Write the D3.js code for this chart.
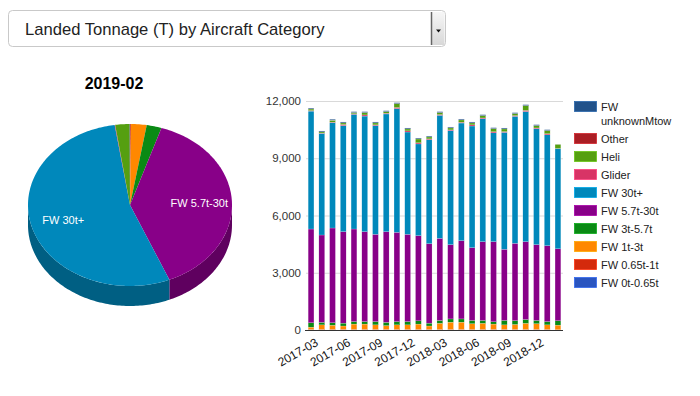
<!DOCTYPE html>
<html>
<head>
<meta charset="utf-8">
<script src="https://cdn.jsdelivr.net/npm/d3@7"></script>
<style>
  body { margin: 0; background: #fff; }
  svg { display: block; font-family: "Liberation Sans", Arial, Helvetica, sans-serif; }
</style>
</head>
<body>
<svg id="chart" width="700" height="396"></svg>
<script>
// monthly landed tonnage per aircraft category
const months = ["2017-03","2017-04","2017-05","2017-06","2017-07","2017-08","2017-09","2017-10","2017-11","2017-12","2018-01","2018-02",
                "2018-03","2018-04","2018-05","2018-06","2018-07","2018-08","2018-09","2018-10","2018-11","2018-12","2019-01","2019-02"];
const tickMonths = ["2017-03","2017-06","2017-09","2017-12","2018-03","2018-06","2018-09","2018-12"];
const yTicks = [0, 3000, 6000, 9000, 12000];

const fw0_065  = [15,15,15,15,15,15,15,15,15,15,15,15,15,15,15,15,15,15,15,15,15,15,15,4];
const fw065_1  = [15,15,15,15,15,15,15,15,15,15,15,15,15,15,15,15,15,15,15,15,15,15,15,12];
const fw1_3    = [120,240,220,180,280,280,240,200,240,240,280,180,320,380,380,300,320,280,240,260,320,300,240,240];
const fw3_57   = [230,130,130,150,130,130,170,170,170,170,170,150,150,170,170,170,150,120,230,200,200,170,170,230];
const fw57_30  = [4912,4578,4965,4792,4852,4712,4573,4752,4677,4573,4463,4164,4303,3892,4101,3814,4129,4199,3727,4051,4079,3972,3979,3770];
const fw30     = [6178,5320,5515,5558,6008,6058,5697,6168,6483,5362,4807,5451,6447,5975,6165,6376,6443,5701,6128,6656,6817,6076,5807,5250];
const glider   = [30,20,30,60,30,60,40,40,60,60,60,40,40,40,40,60,40,60,40,40,60,40,60,8];
const heli     = [80,60,100,80,60,120,100,80,200,100,200,100,100,100,120,100,120,160,140,100,250,120,160,220];
const other    = [6,6,6,6,6,6,6,6,6,6,6,6,6,6,6,6,6,6,6,6,6,6,6,2];
const unknown  = [45,45,45,45,45,45,45,45,45,45,45,45,45,45,45,45,45,45,45,45,45,45,45,4];

const keys   = ["FW 0t-0.65t","FW 0.65t-1t","FW 1t-3t","FW 3t-5.7t","FW 5.7t-30t","FW 30t+","Glider","Heli","Other","FW unknownMtow"];
const series = [fw0_065, fw065_1, fw1_3, fw3_57, fw57_30, fw30, glider, heli, other, unknown];
const colors = ["#2a55c0","#d42a0c","#ff8800","#0a8a14","#880088","#0088bb","#d83466","#559f10","#aa1e24","#22528a"];

const svg = d3.select("#chart");
const color = d3.scaleOrdinal().domain(keys).range(colors);

// --- dropdown
const dd = svg.append("g");
dd.append("rect").attr("x", 8.5).attr("y", 10.5).attr("width", 437).attr("height", 36)
  .attr("rx", 4).attr("fill", "#fff").attr("stroke", "#c9c9c9");
const grad = svg.append("defs").append("linearGradient").attr("id", "btn").attr("x1", 0).attr("x2", 0).attr("y1", 0).attr("y2", 1);
grad.append("stop").attr("offset", "0%").attr("stop-color", "#f6f6f6");
grad.append("stop").attr("offset", "100%").attr("stop-color", "#d8d8d8");
dd.append("rect").attr("x", 431.5).attr("y", 12).attr("width", 13).attr("height", 33).attr("fill", "url(#btn)");
dd.append("line").attr("x1", 431.5).attr("x2", 431.5).attr("y1", 12).attr("y2", 45).attr("stroke", "#666").attr("stroke-width", 1.5);
dd.append("path").attr("d", "M436,29.5 L441,29.5 L438.5,32.5 Z").attr("fill", "#111");
dd.append("text").attr("x", 25).attr("y", 35).attr("font-size", 16.6).attr("fill", "#222")
  .text("Landed Tonnage (T) by Aircraft Category");

// --- 3D pie for last month
const last = months.length - 1;
const pieData = keys.map((k, i) => ({ key: k, value: series[i][last] }));
const arcs = d3.pie().sort(null).value(d => d.value)(pieData);
const cx = 130, cy = 205, rx = 102, ry = 81, depth = 20;
const pt = (a, dy = 0) => [cx + rx * Math.sin(a), cy - ry * Math.cos(a) + dy];

function topPath(a0, a1) {
  const p = d3.path();
  p.moveTo(cx, cy);
  const n = Math.max(2, Math.ceil((a1 - a0) / 0.02));
  for (let i = 0; i <= n; i++) { const [x, y] = pt(a0 + (a1 - a0) * i / n); p.lineTo(x, y); }
  p.closePath();
  return p.toString();
}
function sidePath(a0, a1) {
  const p = d3.path();
  const n = Math.max(2, Math.ceil((a1 - a0) / 0.02));
  for (let i = 0; i <= n; i++) {
    const [x, y] = pt(a0 + (a1 - a0) * i / n);
    if (i === 0) p.moveTo(x, y); else p.lineTo(x, y);
  }
  for (let i = n; i >= 0; i--) { const [x, y] = pt(a0 + (a1 - a0) * i / n, depth); p.lineTo(x, y); }
  p.closePath();
  return p.toString();
}

const pie = svg.append("g");
arcs.forEach(d => {
  const a0 = Math.max(d.startAngle, Math.PI / 2), a1 = Math.min(d.endAngle, Math.PI * 1.5);
  if (a1 > a0) pie.append("path").attr("d", sidePath(a0, a1))
    .attr("fill", d3.color(color(d.data.key)).darker(1));
});
arcs.forEach(d => {
  pie.append("path").attr("d", topPath(d.startAngle, d.endAngle)).attr("fill", color(d.data.key));
});
arcs.filter(d => d.endAngle - d.startAngle > 0.6).forEach(d => {
  const m = (d.startAngle + d.endAngle) / 2;
  const [x, y] = [cx + 0.68 * rx * Math.sin(m), cy - 0.68 * ry * Math.cos(m)];
  pie.append("text").attr("x", x).attr("y", y + 4).attr("text-anchor", "middle")
    .attr("font-size", 11).attr("fill", "#fff").text(d.data.key);
});
svg.append("text").attr("x", 114).attr("y", 89).attr("text-anchor", "middle")
  .attr("font-size", 16).attr("font-weight", "bold").attr("fill", "#000").text(months[last]);

// --- stacked bars
const rows = months.map((m, i) => {
  const r = { month: m };
  keys.forEach((k, j) => r[k] = series[j][i]);
  return r;
});
const stacked = d3.stack().keys(keys)(rows);

const x = d3.scaleBand().domain(months).range([306, 563]).paddingInner(0.46).paddingOuter(0.2);
const y = d3.scaleLinear().domain([0, 12000]).range([330, 101]);

const yAxis = svg.append("g").attr("transform", "translate(306,0)")
  .call(d3.axisLeft(y).tickValues(yTicks).tickFormat(d3.format(",")).tickSize(-257).tickPadding(5));
yAxis.select(".domain").remove();
yAxis.selectAll(".tick line").attr("stroke", "#d9d9d9").attr("stroke-width", 1.2);
yAxis.selectAll(".tick text").attr("font-size", 11.5).attr("fill", "#333").attr("font-family", null);

svg.append("g").selectAll("g").data(stacked).join("g")
  .attr("fill", d => color(d.key))
  .selectAll("rect").data(d => d).join("rect")
  .attr("x", d => x(d.data.month))
  .attr("width", x.bandwidth())
  .attr("y", d => y(d[1]))
  .attr("height", d => Math.max(0, y(d[0]) - y(d[1])))
  .attr("stroke", "#fff").attr("stroke-width", 0.3).attr("stroke-opacity", 0.6);

const xAxis = svg.append("g").attr("transform", "translate(0,330)")
  .call(d3.axisBottom(x).tickValues(tickMonths).tickSize(0).tickPadding(6));
xAxis.select(".domain").attr("stroke", "#333").attr("d", "M305,0.5H563");
xAxis.selectAll(".tick text").attr("font-size", 12).attr("fill", "#111").attr("font-family", null)
  .attr("text-anchor", "end").attr("dy", "0.35em").attr("transform", "translate(3,6) rotate(-30)");

// --- legend (reverse stack order)
const legend = svg.append("g");
const legendKeys = keys.slice().reverse();
let ly = 101;
legendKeys.forEach(k => {
  legend.append("rect").attr("x", 574.5).attr("y", ly + 0.5).attr("width", 22).attr("height", 10)
    .attr("fill", color(k)).attr("stroke", d3.color(color(k)).brighter(0.6)).attr("stroke-width", 0.8);
  const t = legend.append("text").attr("x", 601).attr("y", ly + 9.5).attr("font-size", 11).attr("fill", "#222");
  if (k === "FW unknownMtow") {
    t.append("tspan").attr("x", 601).text("FW");
    t.append("tspan").attr("x", 601).attr("dy", 14).text("unknownMtow");
    ly += 32;
  } else {
    t.text(k);
    ly += 18;
  }
});
</script>
</body>
</html>
